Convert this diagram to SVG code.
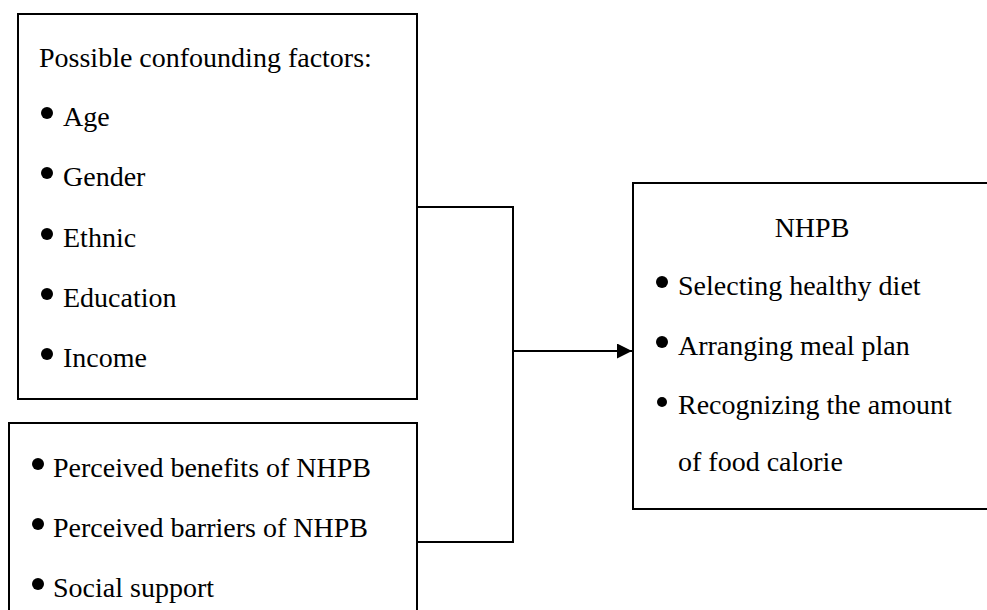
<svg xmlns="http://www.w3.org/2000/svg" width="987" height="610" viewBox="0 0 987 610">
<defs>
<style>
.box{fill:#fff;stroke:#000;stroke-width:2}
.t{font-family:"Liberation Serif","Times New Roman",serif;font-size:28px;fill:#000}
.b{fill:#000}
.c{fill:none;stroke:#000;stroke-width:2}
</style>
<marker id="arr" markerWidth="16" markerHeight="16" refX="15" refY="7.5" orient="auto" markerUnits="userSpaceOnUse">
<path d="M0,0 L15,7.5 L0,15 Z" fill="#000"/>
</marker>
</defs>
<rect width="987" height="610" fill="#fff"/>
<g id="connectors">
<polyline class="c" points="417,207 513,207 513,542 417,542"/>
<line class="c" x1="513" y1="351" x2="632" y2="351" marker-end="url(#arr)"/>
</g>
<g id="confounders">
<rect class="box" x="18" y="14" width="399" height="385"/>
<text class="t" x="39" y="67">Possible confounding factors:</text>
<circle class="b" cx="47" cy="113" r="6"/><text class="t" x="63" y="126">Age</text>
<circle class="b" cx="47" cy="173" r="6"/><text class="t" x="63" y="186">Gender</text>
<circle class="b" cx="47" cy="234" r="6"/><text class="t" x="63" y="247">Ethnic</text>
<circle class="b" cx="47" cy="294" r="6"/><text class="t" x="63" y="307">Education</text>
<circle class="b" cx="47" cy="354" r="6"/><text class="t" x="63" y="367">Income</text>
</g>
<g id="perceptions">
<rect class="box" x="9" y="423" width="408" height="250"/>
<circle class="b" cx="38" cy="464" r="6"/><text class="t" x="53" y="477">Perceived benefits of NHPB</text>
<circle class="b" cx="38" cy="524" r="6"/><text class="t" x="53" y="537">Perceived barriers of NHPB</text>
<circle class="b" cx="38" cy="584" r="6"/><text class="t" x="53" y="597">Social support</text>
</g>
<g id="nhpb">
<rect class="box" x="633" y="183" width="400" height="326"/>
<text class="t" x="812" y="237" text-anchor="middle">NHPB</text>
<circle class="b" cx="662" cy="282" r="6"/><text class="t" x="678" y="295">Selecting healthy diet</text>
<circle class="b" cx="662" cy="342" r="6"/><text class="t" x="678" y="355">Arranging meal plan</text>
<circle class="b" cx="662" cy="402" r="5"/><text class="t" x="678" y="414">Recognizing the amount</text>
<text class="t" x="678" y="471">of food calorie</text>
</g>
</svg>
